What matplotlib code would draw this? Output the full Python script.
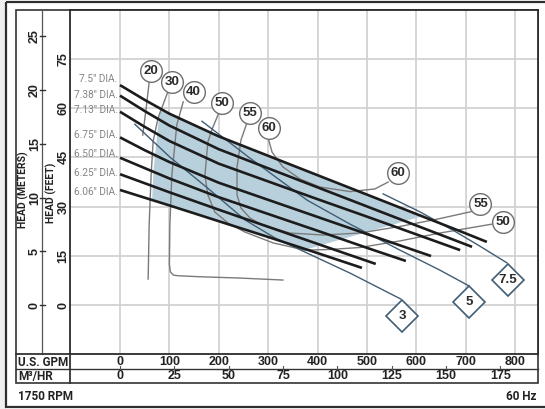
import matplotlib
matplotlib.use("Agg")
import matplotlib.pyplot as plt
from matplotlib import font_manager
from matplotlib.patches import Rectangle

# narrow-ish faces for the small text
names = set(f.name for f in font_manager.fontManager.ttflist)
NARROW = "Roboto" if "Roboto" in names else "DejaVu Sans"
BOLD = "Liberation Sans" if "Liberation Sans" in names else "DejaVu Sans"
plt.rcParams["font.family"] = [NARROW, "DejaVu Sans"]

# impeller curves, x = US GPM, y = head in feet
dia_names = ['7.5" DIA.', '7.38" DIA.', '7.13" DIA.', '6.75" DIA.', '6.50" DIA.', '6.25" DIA.', '6.06" DIA.']
dia_label_ft = [68.8, 63.9, 59.4, 51.8, 46.0, 40.2, 34.4]

c75_gpm = [0, 50, 100, 200, 300, 400, 500, 600, 700, 743]
c75_ft = [67.0, 62.5, 58.3, 51.4, 45.5, 39.6, 33.7, 27.8, 21.9, 19.3]
c738_gpm = [0, 50, 100, 200, 300, 400, 500, 600, 713]
c738_ft = [63.8, 59.1, 54.7, 47.5, 41.7, 35.9, 30.1, 24.3, 17.8]
c713_gpm = [0, 50, 100, 200, 300, 400, 500, 600, 689]
c713_ft = [58.9, 54.3, 50.0, 43.1, 37.7, 32.3, 27.0, 21.6, 16.8]
c675_gpm = [0, 50, 100, 200, 300, 400, 500, 630]
c675_ft = [51.1, 47.2, 43.6, 37.3, 32.1, 26.9, 21.7, 15.0]
c650_gpm = [0, 100, 200, 300, 400, 500, 579]
c650_ft = [44.9, 38.6, 32.9, 27.8, 22.7, 17.5, 13.5]
c625_gpm = [0, 100, 200, 300, 400, 518]
c625_ft = [39.9, 34.4, 29.1, 23.9, 18.7, 12.6]
c606_gpm = [0, 100, 200, 300, 400, 490]
c606_ft = [35.1, 30.4, 25.6, 20.8, 15.9, 11.4]

curves = [(c75_gpm, c75_ft), (c738_gpm, c738_ft), (c713_gpm, c713_ft), (c675_gpm, c675_ft),
          (c650_gpm, c650_ft), (c625_gpm, c625_ft), (c606_gpm, c606_ft)]

# preferred operating region
shade_gpm = [81, 100, 200, 300, 400, 500, 600, 612, 377, 300, 200, 100, 65, 68, 74, 81]
shade_ft = [59.9, 58.3, 51.4, 45.5, 39.6, 33.7, 27.8, 27.1, 17.0, 20.8, 25.6, 30.4, 32.0, 41.2, 50.3, 59.9]

# efficiency lines (%)
eff20_gpm = [59, 53, 46]
eff20_ft = [67.8, 60.0, 51.8]
eff30_gpm = [97, 77, 67, 63, 59, 57]
eff30_ft = [65.0, 57.0, 49.8, 39.6, 24.4, 8.0]
eff40_gpm = [128, 115, 105, 101, 100, 102, 108, 118, 162, 243, 330]
eff40_ft = [61.9, 54.9, 39.6, 24.4, 12.5, 10.2, 9.2, 9.0, 8.7, 8.3, 7.7]
eff50_gpm = [200, 186, 178, 172, 178, 192, 219, 253, 310, 375, 425, 486, 567, 648, 753]
eff50_ft = [58.5, 53.4, 49.7, 39.6, 33.6, 28.4, 25.0, 22.3, 19.0, 16.8, 17.0, 17.6, 19.6, 22.0, 24.7]
eff55_gpm = [257, 245, 237, 237, 245, 263, 288, 344, 411, 486, 567, 648, 711]
eff55_ft = [55.5, 50.3, 42.1, 33.6, 29.6, 26.6, 24.4, 22.0, 21.4, 22.0, 24.0, 26.4, 28.5]
eff60_gpm = [300, 308, 330, 365, 405, 466, 516, 543]
eff60_ft = [50.9, 46.6, 42.1, 38.4, 36.0, 34.6, 35.4, 37.5]

circ_text = ["20", "30", "40", "50", "55", "60", "60", "55", "50"]
circ_gpm = [63, 105, 149, 207, 263, 301, 563, 730, 776]
circ_ft = [71.3, 67.9, 65.0, 61.5, 58.5, 54.1, 40.2, 30.8, 25.3]

# horsepower lines
hp3_gpm = [30, 101, 182, 253, 314, 379, 466, 569]
hp3_ft = [55.1, 45.1, 35.1, 26.0, 20.5, 15.9, 9.8, 1.9]
hp5_gpm = [166, 263, 379, 466, 567, 648, 707]
hp5_ft = [56.0, 44.8, 32.0, 24.7, 16.8, 10.7, 5.9]
hp75_gpm = [533, 608, 674, 729, 784]
hp75_ft = [33.9, 28.4, 22.9, 18.0, 12.9]

hp_text = ["3", "5", "7.5"]
hp_gpm = [571, 707, 786]
hp_ft = [-3.1, 1.0, 7.8]

gpm_ticks = [0, 100, 200, 300, 400, 500, 600, 700, 800]
m3_ticks = [0, 25, 50, 75, 100, 125, 150, 175]
ft_ticks = [0, 15, 30, 45, 60, 75]
m_ticks = [0, 5, 10, 15, 20, 25]

W, H = 545, 409
fig = plt.figure(figsize=(W / 100, H / 100), dpi=100)

# frame and table lines, in pixels
bg = fig.add_axes([0, 0, 1, 1], zorder=0)
bg.set_xlim(0, W)
bg.set_ylim(H, 0)
bg.axis("off")
bg.add_patch(Rectangle((0, 0), 6, H, color="#efefef", lw=0))
bg.add_patch(Rectangle((6, 1.5), W, 405.5, fill=False, ec="#2e2e2e", lw=1.6))
bg.add_patch(Rectangle((16, 9.5), 522, 373.5, fill=False, ec="#333333", lw=1.2))
bg.plot([42, 42], [9.5, 354], color="#555555", lw=0.9)
bg.plot([70, 70], [354, 383], color="#333333", lw=1.3)
bg.plot([16, 538], [369, 369], color="#333333", lw=1.0)
bg.plot([16, 70], [354, 354], color="#333333", lw=1.3)

bg.text(18, 362, "U.S. GPM", fontsize=8.5, fontweight="bold", va="center", color="#222222")
bg.text(18, 376.5, "M³/HR", fontsize=8.5, fontweight="bold", va="center", color="#222222")
bg.text(18, 397, "1750 RPM", fontsize=8.5, fontweight="bold", va="center", color="#222222")
bg.text(536, 397, "60 Hz", fontsize=8.5, fontweight="bold", va="center", ha="right", color="#222222")
bg.text(23, 190, "HEAD (METERS)", fontsize=7.5, fontweight="bold", rotation=90,
        ha="center", va="center", color="#222222")
bg.text(51, 192.5, "HEAD (FEET)", fontsize=7.5, fontweight="bold", rotation=90,
        ha="center", va="center", color="#222222")

# the chart itself
ax = fig.add_axes([70 / W, 1 - 354 / H, 468 / W, 344.5 / H], zorder=1)
ax.set_xlim(-101.3, 846.6)
ax.set_ylim(-14.8, 90.0)
ax.set_xticks(gpm_ticks)
ax.set_yticks(ft_ticks)
ax.tick_params(length=0, labelbottom=False, labelleft=False)
ax.grid(True, color="#d2d2d2", lw=1.3)
ax.set_axisbelow(True)
for s in ax.spines.values():
    s.set_color("#2b2b2b")
    s.set_linewidth(1.3)

ax.fill(shade_gpm, shade_ft, color="#b8cfdc", lw=0, zorder=1)

for g, f in [(eff20_gpm, eff20_ft), (eff30_gpm, eff30_ft), (eff40_gpm, eff40_ft),
             (eff50_gpm, eff50_ft), (eff55_gpm, eff55_ft), (eff60_gpm, eff60_ft)]:
    ax.plot(g, f, color="#7a7a7a", lw=1.0, zorder=2)

for g, f in [(hp3_gpm, hp3_ft), (hp5_gpm, hp5_ft), (hp75_gpm, hp75_ft)]:
    ax.plot(g, f, color="#3f5d74", lw=1.0, zorder=3)

for g, f in curves:
    ax.plot(g, f, color="#1c1c1c", lw=1.9, solid_capstyle="butt", zorder=4)

for name, y in zip(dia_names, dia_label_ft):
    ax.text(-5, y, name, fontsize=7.3, color="#858585", ha="right", va="center")

for t, g, f in zip(circ_text, circ_gpm, circ_ft):
    ax.plot(g, f, "o", ms=15.6, mfc="white", mec="#6e6e6e", mew=1.0, zorder=5)
    ax.text(g, f, t, fontsize=9.5, fontweight="bold", family=BOLD, color="#2a2a2a",
            ha="center", va="center", zorder=6)

for t, g, f in zip(hp_text, hp_gpm, hp_ft):
    ax.plot(g, f, "D", ms=16.0, mfc="white", mec="#3f5d74", mew=1.2, zorder=5)
    ax.text(g, f, t, fontsize=9.5, fontweight="bold", family=BOLD, color="#2a2a2a",
            ha="center", va="center", zorder=6)

# head scales on the left
ytr = ax.get_yaxis_transform()
for v in ft_ticks:
    ax.text(-0.0139, v, str(v), transform=ytr, rotation=90, fontsize=9, fontweight="bold",
            family=BOLD, ha="center", va="center", color="#222222", clip_on=False)
for v in m_ticks:
    y = v * 3.28084
    ax.text(-0.0748, y, str(v), transform=ytr, rotation=90, fontsize=9, fontweight="bold",
            family=BOLD, ha="center", va="center", color="#222222", clip_on=False)
    ax.plot([-0.0641, -0.0534], [y, y], transform=ytr, color="#333333", lw=1.0, clip_on=False)

# flow scales under the chart
xtr = ax.get_xaxis_transform()
for v in gpm_ticks:
    ax.text(v, -0.0232, str(v), transform=xtr, fontsize=9, fontweight="bold", family=BOLD,
            ha="center", va="center", color="#222222", clip_on=False)
for v in m3_ticks:
    x = v * 4.40287
    ax.text(x, -0.0653, str(v), transform=xtr, fontsize=9, fontweight="bold", family=BOLD,
            ha="center", va="center", color="#222222", clip_on=False)
    ax.plot([x, x], [-0.0348, -0.0435], transform=xtr, color="#555555", lw=0.8, clip_on=False)

fig.savefig("out.png", dpi=100)
